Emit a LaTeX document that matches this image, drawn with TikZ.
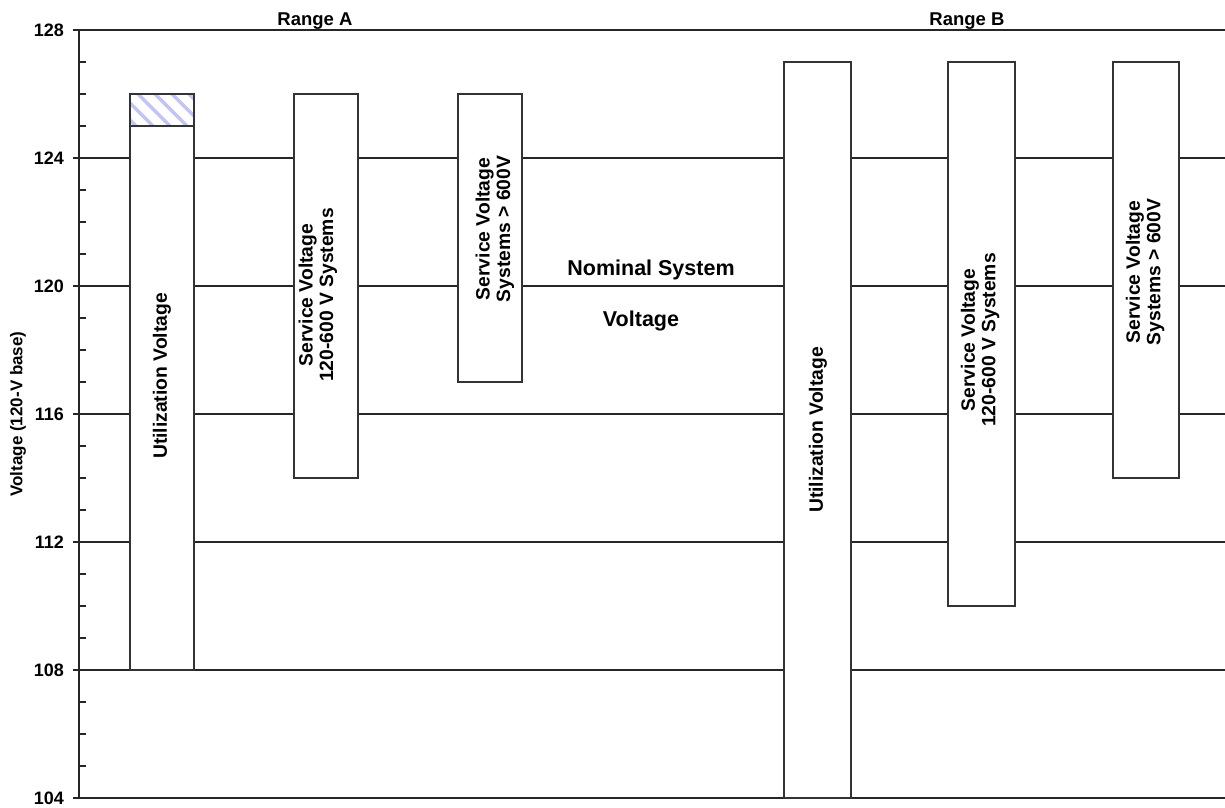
\documentclass[tikz,border=0pt]{standalone}
\usepackage{fontspec}
\setmainfont{Liberation Sans}
\begin{document}
\begin{tikzpicture}[x=1pt,y=-1pt,
  gridline/.style={line width=1.6pt,draw=black!85},
  barbox/.style={line width=1.6pt,draw=black!80,fill=white},
  barlabel/.style={rotate=90,align=center,inner sep=0pt,font=\fontsize{19.3}{20.5}\selectfont\bfseries},
  ticklabel/.style={anchor=east,inner sep=0pt,font=\fontsize{18}{20}\selectfont\bfseries},
  toplabel/.style={anchor=base,inner sep=0pt,font=\fontsize{18.5}{21}\selectfont\bfseries},
  midlabel/.style={anchor=base,inner sep=0pt,font=\fontsize{21.5}{24}\selectfont\bfseries}]
\useasboundingbox (0,0) rectangle (1225,807);
% horizontal grid lines
\foreach \v in {128,124,120,116,112,108,104}{
  \coordinate (gl\v) at (79,{30+32*(128-\v)});
  \coordinate (gr\v) at (1225,{30+32*(128-\v)});
  \draw[gridline] (gl\v) -- (gr\v);
  \draw[gridline] (gl\v) -- ++(-6,0);
  \node[ticklabel] (t\v) at (64,{30+32*(128-\v)}) {\v};
}
% axis
\draw[gridline] (gl128) -- (gl104);
\foreach \v in {105,106,107,109,110,111,113,114,115,117,118,119,121,122,123,125,126,127}{
  \coordinate (m\v) at (79,{30+32*(128-\v)});
  \draw[gridline] (m\v) -- ++(7,0);
}
% Range A
\draw[barbox] (130,94) rectangle (194,670);
\begin{scope}
  \clip (130,94) rectangle (194,126);
  \foreach \s in {-60,-43,...,220}{
    \draw[line width=3.5pt,draw={rgb,255:red,195;green,195;blue,252}] (130+\s,94) -- ++(40,40);
  }
\end{scope}
\draw[line width=1.6pt,draw=black!80] (130,94) rectangle (194,126);
\node[barlabel] (ua) at (162,376) {Utilization Voltage};
\draw[barbox] (294,94) rectangle (358,478);
\node[barlabel] (sa1) at (318,295) {Service Voltage\\120-600 V Systems};
\draw[barbox] (458,94) rectangle (522,382);
\node[barlabel] (sa2) at (495,229) {Service Voltage\\Systems > 600V};
% Range B
\draw[barbox] (784,62) rectangle (851,798);
\node[barlabel] (ub) at (818,430) {Utilization Voltage};
\draw[barbox] (948,62) rectangle (1015,606);
\node[barlabel] (sb1) at (980,340) {Service Voltage\\120-600 V Systems};
\draw[barbox] (1113,62) rectangle (1179,478);
\node[barlabel] (sb2) at (1145,272) {Service Voltage\\Systems > 600V};
% labels
\node[toplabel] (ra) at (315,25) {Range A};
\node[toplabel] (rb) at (967,25) {Range B};
\node[midlabel] (ns) at (651,275) {Nominal System};
\node[midlabel] (nv) at (641,326) {Voltage};
\node[rotate=90,inner sep=0pt,font=\fontsize{17}{20}\selectfont\bfseries] (yl) at (18,414) {Voltage (120-V base)};
\end{tikzpicture}
\end{document}
